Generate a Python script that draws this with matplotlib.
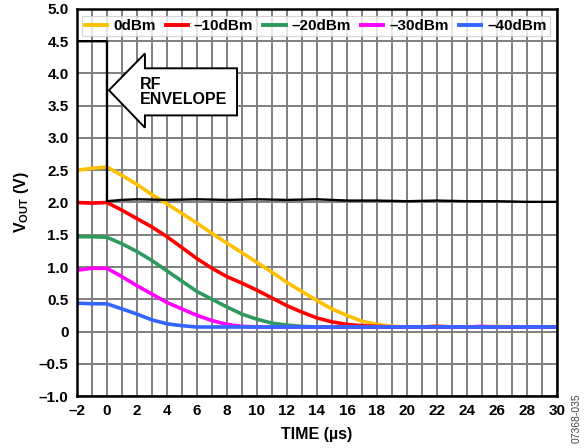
import numpy as np
import matplotlib.pyplot as plt
from matplotlib.patches import Polygon

plt.rcParams['font.family'] = ['Liberation Sans', 'DejaVu Sans']
plt.rcParams['font.weight'] = 'bold'
plt.rcParams['mathtext.fontset'] = 'custom'
plt.rcParams['mathtext.rm'] = 'Liberation Sans:bold'
plt.rcParams['mathtext.it'] = 'Liberation Sans:bold'
plt.rcParams['mathtext.bf'] = 'Liberation Sans:bold'

# time axis of the decay traces (us)
t = [-2, -1, 0, 1, 2, 3, 4, 5, 6, 7, 8, 9, 10, 11, 12, 13, 14, 15, 16,
     17, 18, 19, 20, 21, 22, 23, 24, 25, 26, 27, 28, 29, 30]

v_0dbm = [2.50, 2.53, 2.55, 2.42, 2.28, 2.12, 1.98, 1.83, 1.68, 1.52, 1.37,
          1.22, 1.07, 0.92, 0.76, 0.62, 0.48, 0.35, 0.25, 0.16, 0.11, 0.08,
          0.07, 0.07, 0.08, 0.07, 0.07, 0.07, 0.08, 0.07, 0.07, 0.07, 0.07]
v_10dbm = [2.00, 1.99, 2.00, 1.88, 1.75, 1.62, 1.47, 1.30, 1.13, 0.98, 0.85,
           0.75, 0.64, 0.52, 0.40, 0.30, 0.21, 0.15, 0.11, 0.09, 0.08, 0.07,
           0.07, 0.07, 0.08, 0.07, 0.07, 0.07, 0.07, 0.07, 0.07, 0.07, 0.07]
v_20dbm = [1.47, 1.47, 1.46, 1.36, 1.24, 1.10, 0.94, 0.78, 0.62, 0.50, 0.38,
           0.27, 0.19, 0.13, 0.10, 0.08, 0.07, 0.07, 0.07, 0.07, 0.07, 0.07,
           0.07, 0.07, 0.07, 0.07, 0.07, 0.07, 0.07, 0.07, 0.07, 0.07, 0.07]
v_30dbm = [0.95, 0.98, 0.98, 0.85, 0.71, 0.58, 0.45, 0.35, 0.25, 0.17, 0.11,
           0.08, 0.07, 0.07, 0.07, 0.07, 0.07, 0.07, 0.07, 0.07, 0.07, 0.07,
           0.07, 0.07, 0.07, 0.07, 0.07, 0.08, 0.07, 0.07, 0.07, 0.07, 0.07]
v_40dbm = [0.44, 0.43, 0.43, 0.35, 0.27, 0.18, 0.12, 0.09, 0.07, 0.07, 0.07,
           0.07, 0.07, 0.07, 0.07, 0.07, 0.07, 0.07, 0.07, 0.07, 0.07, 0.07,
           0.07, 0.07, 0.07, 0.07, 0.07, 0.07, 0.07, 0.07, 0.07, 0.07, 0.07]

# RF envelope trace
env_t = [-2, 0, 0, 1, 2, 4, 6, 8, 10, 12, 14, 16, 18, 20, 22, 24, 26, 28, 30]
env_v = [4.5, 4.5, 2.02, 2.04, 2.05, 2.04, 2.05, 2.04, 2.05, 2.04, 2.05,
         2.03, 2.03, 2.02, 2.03, 2.02, 2.02, 2.01, 2.01]

labels = ['0dBm', '–10dBm', '–20dBm', '–30dBm', '–40dBm']
colors = ['#FFC000', '#FF0000', '#2E9A5E', '#FF00FF', '#3366FF']
series = [v_0dbm, v_10dbm, v_20dbm, v_30dbm, v_40dbm]

xticks = list(range(-2, 31, 2))
yticks = [-1.0, -0.5, 0, 0.5, 1.0, 1.5, 2.0, 2.5, 3.0, 3.5, 4.0, 4.5, 5.0]


def fmt_num(v, dec):
    if v == 0:
        return '0'
    s = f'{abs(v):.{dec}f}'
    return ('–' + s) if v < 0 else s


fig = plt.figure(figsize=(5.85, 4.48), dpi=100)
ax = fig.add_axes([0.1316, 0.116, 0.8205, 0.864])

for vals, c, lab in zip(series, colors, labels):
    ax.plot(t, vals, color=c, lw=2.6, label=lab, solid_joinstyle='round')
ax.plot(env_t, env_v, color='black', lw=1.7)

ax.set_xlim(-2, 30)
ax.set_ylim(-1, 5)
ax.set_xticks(xticks)
ax.set_xticklabels([fmt_num(v, 0) for v in xticks])
ax.set_xticks(range(-2, 31), minor=True)
ax.set_yticks(yticks)
ax.set_yticklabels([fmt_num(v, 1) for v in yticks])
ax.tick_params(which='both', length=0, labelsize=11, pad=6)
ax.grid(True, which='both', color='#7f7f7f', lw=1.4)
ax.set_axisbelow(True)
for sp in ax.spines.values():
    sp.set_linewidth(1.8)

ax.set_xlabel('TIME (µs)', fontsize=11.5, fontweight='bold', labelpad=6)
ax.set_ylabel(r'V$_{\mathrm{OUT}}$ (V)', fontsize=11.5, fontweight='bold',
              labelpad=6)

# block arrow with label
arrow = Polygon([(0.13, 3.74), (2.53, 4.31), (2.53, 4.08), (8.67, 4.08),
                 (8.67, 3.35), (2.53, 3.35), (2.53, 3.16)],
                closed=True, facecolor='white', edgecolor='black', lw=1.4,
                zorder=5)
ax.add_patch(arrow)
ax.text(2.2, 3.72, 'RF\nENVELOPE', fontsize=11.5, fontweight='bold',
        ha='left', va='center', linespacing=1.0, zorder=6)

leg = ax.legend(loc='upper left', bbox_to_anchor=(0.0, 0.993, 0.995, 0),
                mode='expand', ncol=5, fontsize=11, frameon=True,
                fancybox=False, handlelength=1.45, handletextpad=0.4,
                borderpad=0.2, borderaxespad=0.3, columnspacing=0.5)
leg.get_frame().set_edgecolor('#cccccc')
leg.get_frame().set_linewidth(0.8)
for ln in leg.get_lines():
    ln.set_linewidth(2.8)

fig.text(0.985, 0.012, '07368-035', rotation=90, fontsize=7.5,
         fontweight='normal', color='#444444', ha='center', va='bottom')

fig.savefig('out.png', dpi=100)
